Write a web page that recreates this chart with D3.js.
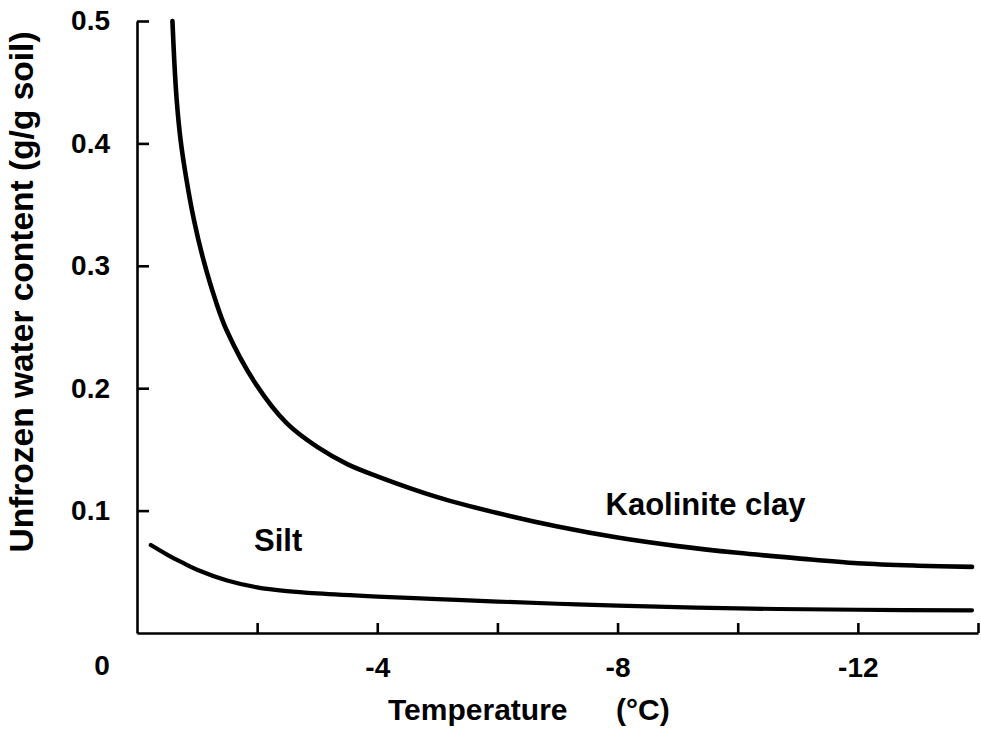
<!DOCTYPE html>
<html>
<head>
<meta charset="utf-8">
<script src="https://cdn.jsdelivr.net/npm/d3@7"></script>
<style>
  body { margin: 0; background: #fff; }
  text { font-family: "Liberation Sans", Arial, Helvetica, sans-serif; font-weight: bold; fill: #000; }
</style>
</head>
<body>
<script>
// temperature (deg C) and unfrozen water content (g/g soil)
var tempClay  = [-0.59, -0.62, -0.66, -0.725, -0.825, -0.95, -1.105, -1.305, -1.49, -1.97, -2.5, -3, -3.5, -4, -5, -6, -7, -8, -9, -10, -11, -12, -13, -13.9];
var waterClay = [0.50, 0.468, 0.436, 0.403, 0.370, 0.337, 0.305, 0.272, 0.2475, 0.204, 0.171, 0.152, 0.138, 0.128, 0.111, 0.098, 0.087, 0.078, 0.071, 0.0655, 0.061, 0.057, 0.055, 0.054];

var tempSilt  = [-0.23, -0.5, -0.75, -1, -1.5, -2, -2.5, -3, -4, -5, -6, -7, -8, -10, -12, -13.9];
var waterSilt = [0.0719, 0.0641, 0.0576, 0.0517, 0.0429, 0.0373, 0.0342, 0.0323, 0.0297, 0.0277, 0.0257, 0.0239, 0.0224, 0.0201, 0.019, 0.0185];

var xTicks = [-2, -4, -6, -8, -10, -12, -14];
var xLabels = [-4, -8, -12];
var yTicks = [0.1, 0.2, 0.3, 0.4, 0.5];

var curveNames = ["Kaolinite clay", "Silt"];
var nameTemp = [-7.8, -2.35];
var nameWater = [0.0964, 0.067];

var totalWidth = 981;
var totalHeight = 729;

var svg = d3.select("body")
    .append("svg")
    .attr("width", totalWidth)
    .attr("height", totalHeight);

var xScale = d3.scaleLinear()
    .domain([0, -14])
    .range([137, 978]);

var yScale = d3.scaleLinear()
    .domain([0, 0.5])
    .range([633, 21]);

// x axis, ticks pointing up into the plot
var xAxis = d3.axisBottom(xScale)
    .tickValues(xTicks)
    .tickSizeInner(-10)
    .tickSizeOuter(0)
    .tickPadding(24)
    .tickFormat(function(d){ return xLabels.indexOf(d) >= 0 ? d : ""; });

var xAxisg = svg.append("g")
    .attr("transform", "translate(0," + yScale(0) + ")")
    .call(xAxis);

// y axis, ticks pointing right
var yAxis = d3.axisLeft(yScale)
    .tickValues(yTicks)
    .tickSizeInner(-12)
    .tickSizeOuter(0)
    .tickPadding(27)
    .tickFormat(d3.format(".1f"));

var yAxisg = svg.append("g")
    .attr("transform", "translate(" + xScale(0) + ",0)")
    .call(yAxis);

svg.selectAll(".domain, .tick line")
    .attr("stroke", "#000")
    .attr("stroke-width", 2.6);

svg.selectAll(".tick text")
    .attr("font-size", 28)
    .attr("font-family", null);

// shared origin label
svg.append("text")
    .attr("x", xScale(0) - 35)
    .attr("y", yScale(0) + 42)
    .attr("text-anchor", "middle")
    .attr("font-size", 28)
    .text("0");

var lineGen = d3.line()
    .x(function(d){ return xScale(d[0]); })
    .y(function(d){ return yScale(d[1]); })
    .curve(d3.curveCatmullRom.alpha(0.5));

svg.append("path")
    .datum(d3.zip(tempClay, waterClay))
    .attr("d", lineGen)
    .attr("fill", "none")
    .attr("stroke", "#000")
    .attr("stroke-width", 4.6)
    .attr("stroke-linecap", "round");

svg.append("path")
    .datum(d3.zip(tempSilt, waterSilt))
    .attr("d", lineGen)
    .attr("fill", "none")
    .attr("stroke", "#000")
    .attr("stroke-width", 4.2)
    .attr("stroke-linecap", "round");

svg.selectAll(".curve-name")
    .data(curveNames)
    .enter()
    .append("text")
    .attr("class", "curve-name")
    .attr("x", function(d, i){ return xScale(nameTemp[i]); })
    .attr("y", function(d, i){ return yScale(nameWater[i]); })
    .attr("text-anchor", function(d, i){ return i == 0 ? "start" : "middle"; })
    .attr("font-size", 31)
    .text(function(d){ return d; });

// axis titles
svg.append("text")
    .attr("x", 388)
    .attr("y", 720)
    .attr("font-size", 30)
    .text("Temperature");

svg.append("text")
    .attr("x", 616)
    .attr("y", 720)
    .attr("font-size", 30)
    .text("(\u00B0C)");

svg.append("text")
    .attr("transform", "translate(33,292) rotate(-90)")
    .attr("text-anchor", "middle")
    .attr("font-size", 33.5)
    .text("Unfrozen water content (g/g soil)");
</script>
</body>
</html>
